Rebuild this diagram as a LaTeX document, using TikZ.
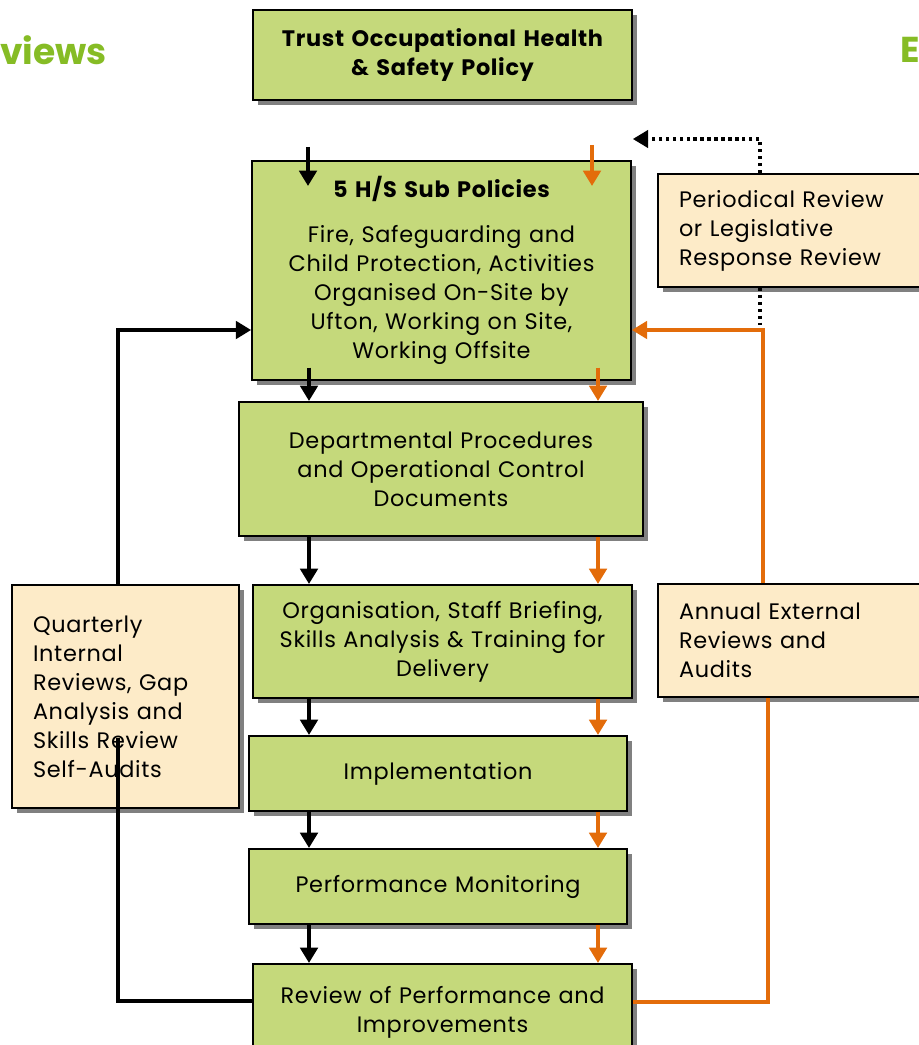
\documentclass[tikz,border=0pt]{standalone}
\usepackage{fontspec}
\setmainfont{Poppins}[LetterSpace=3]
\usetikzlibrary{arrows.meta,shadows}
\definecolor{boxgreen}{RGB}{197,217,123}
\definecolor{boxtan}{RGB}{253,235,200}
\definecolor{loopor}{RGB}{227,108,10}
\definecolor{headgreen}{RGB}{134,188,37}

\begin{document}
\begin{tikzpicture}[
  x=0.75pt, y=-0.75pt,
  font=\fontsize{16.8}{21.75}\selectfont,
  >={Triangle[length=11.5pt, width=13pt]},
  box/.style={draw, line width=1.5pt, fill=boxgreen, align=center, inner sep=0pt,
    drop shadow={shadow xshift=3.5pt, shadow yshift=-3.5pt, fill=black!50, opacity=1}},
  note/.style={box, fill=boxtan, align=left, inner xsep=15.75pt},
  head/.style={text=headgreen, font=\fontsize{27}{30}\selectfont\bfseries\addfontfeatures{LetterSpace=0}, inner sep=0pt},
  karr/.style={line width=3.2pt, ->},
  oarr/.style={karr, draw=loopor},
  kloop/.style={line width=3.2pt},
  oloop/.style={kloop, draw=loopor},
  dots/.style={line width=2.6pt, dash pattern=on 2.6pt off 2.6pt}
]
\useasboundingbox (0,0) rectangle (919,1045);

\node[head, anchor=west] (lhead) at (0,50) {views};
\node[head, anchor=west] (rhead) at (900,50) {E};

% main chain
\node[box, minimum width=284pt, minimum height=67.5pt, text width=275pt] (trust) at (442.5,55)
  {\bfseries Trust Occupational Health\\ \bfseries\& Safety Policy};
\node[box, minimum width=284pt, minimum height=164pt, text width=275pt] (sub) at (441.5,270.5)
  {{\bfseries 5 H/S Sub Policies}\\[12pt] Fire, Safeguarding and\\ Child Protection, Activities\\
   Organised On-Site by\\ Ufton, Working on Site,\\ Working Offsite};
\node[box, minimum width=303pt, minimum height=100.5pt, text width=295pt] (dept) at (441,469)
  {Departmental Procedures\\ and Operational Control\\ Documents};
\node[box, minimum width=284pt, minimum height=84.75pt, text width=280pt] (org) at (442.5,641.5)
  {Organisation, Staff Briefing,\\ Skills Analysis \& Training for\\ Delivery};
\node[box, minimum width=283.5pt, minimum height=56.25pt, text width=275pt] (impl) at (438,773.5)
  {Implementation};
\node[box, minimum width=283.5pt, minimum height=56.25pt, text width=275pt] (perf) at (438,886.5)
  {Performance Monitoring};
\node[box, minimum width=284pt, minimum height=72pt, text width=280pt] (rev) at (442.5,1012)
  {Review of Performance and\\ Improvements};

% review boxes
\node[note, minimum width=210pt, minimum height=84.75pt, text width=178.5pt] (per) at (798,230.5)
  {Periodical Review\\ or Legislative\\ Response Review};
\node[note, minimum width=170.25pt, minimum height=167.25pt, text width=138.75pt] (qua) at (125.5,696.5)
  {Quarterly\\ Internal\\ Reviews, Gap\\ Analysis and\\ Skills Review\\ Self-Audits};
\node[note, minimum width=210pt, minimum height=84.75pt, text width=178.5pt] (ann) at (798,640.5)
  {Annual External\\ Reviews and\\ Audits};

% down arrows
\coordinate (kx) at (309,0);
\coordinate (ox) at (598,0);
\coordinate (ktop) at (308,147);
\coordinate (otop) at (592,145);
\draw[karr] (ktop) -- ++(0,39);
\draw[oarr] (otop) -- ++(0,41);
\draw[karr] ([yshift=10pt]sub.south -| kx) -- (dept.north -| kx);
\draw[oarr] ([yshift=10pt]sub.south -| ox) -- (dept.north -| ox);
\foreach \a/\b in {dept/org, org/impl, impl/perf, perf/rev} {
  \draw[karr] (\a.south -| kx) -- (\b.north -| kx);
  \draw[oarr] (\a.south -| ox) -- (\b.north -| ox);
}

% internal loop
\coordinate (kbend) at (118,330);
\coordinate (kin) at (118,738);
\coordinate (kjoin) at (118,1001);
\draw[kloop] (kjoin -| rev.west) -- (kjoin) -- (kin);
\draw[kloop, ->] (qua.north -| kbend) -- (kbend) -- (kbend -| sub.west);

% external loop
\coordinate (obend) at (763,330);
\coordinate (ojoin) at (768,1002);
\draw[oloop] (ojoin -| rev.east) -- (ojoin) -- (ojoin |- ann.south);
\draw[oloop, ->] (ann.north -| obend) -- (obend) -- (obend -| sub.east);

% periodical review
\coordinate (dbend) at (760,139);
\draw[dots, ->] (per.north -| dbend) -- (dbend) -- (dbend -| trust.east);
\draw[dots] (per.south -| dbend) -- (dbend |- 0,325);
\end{tikzpicture}
\end{document}
